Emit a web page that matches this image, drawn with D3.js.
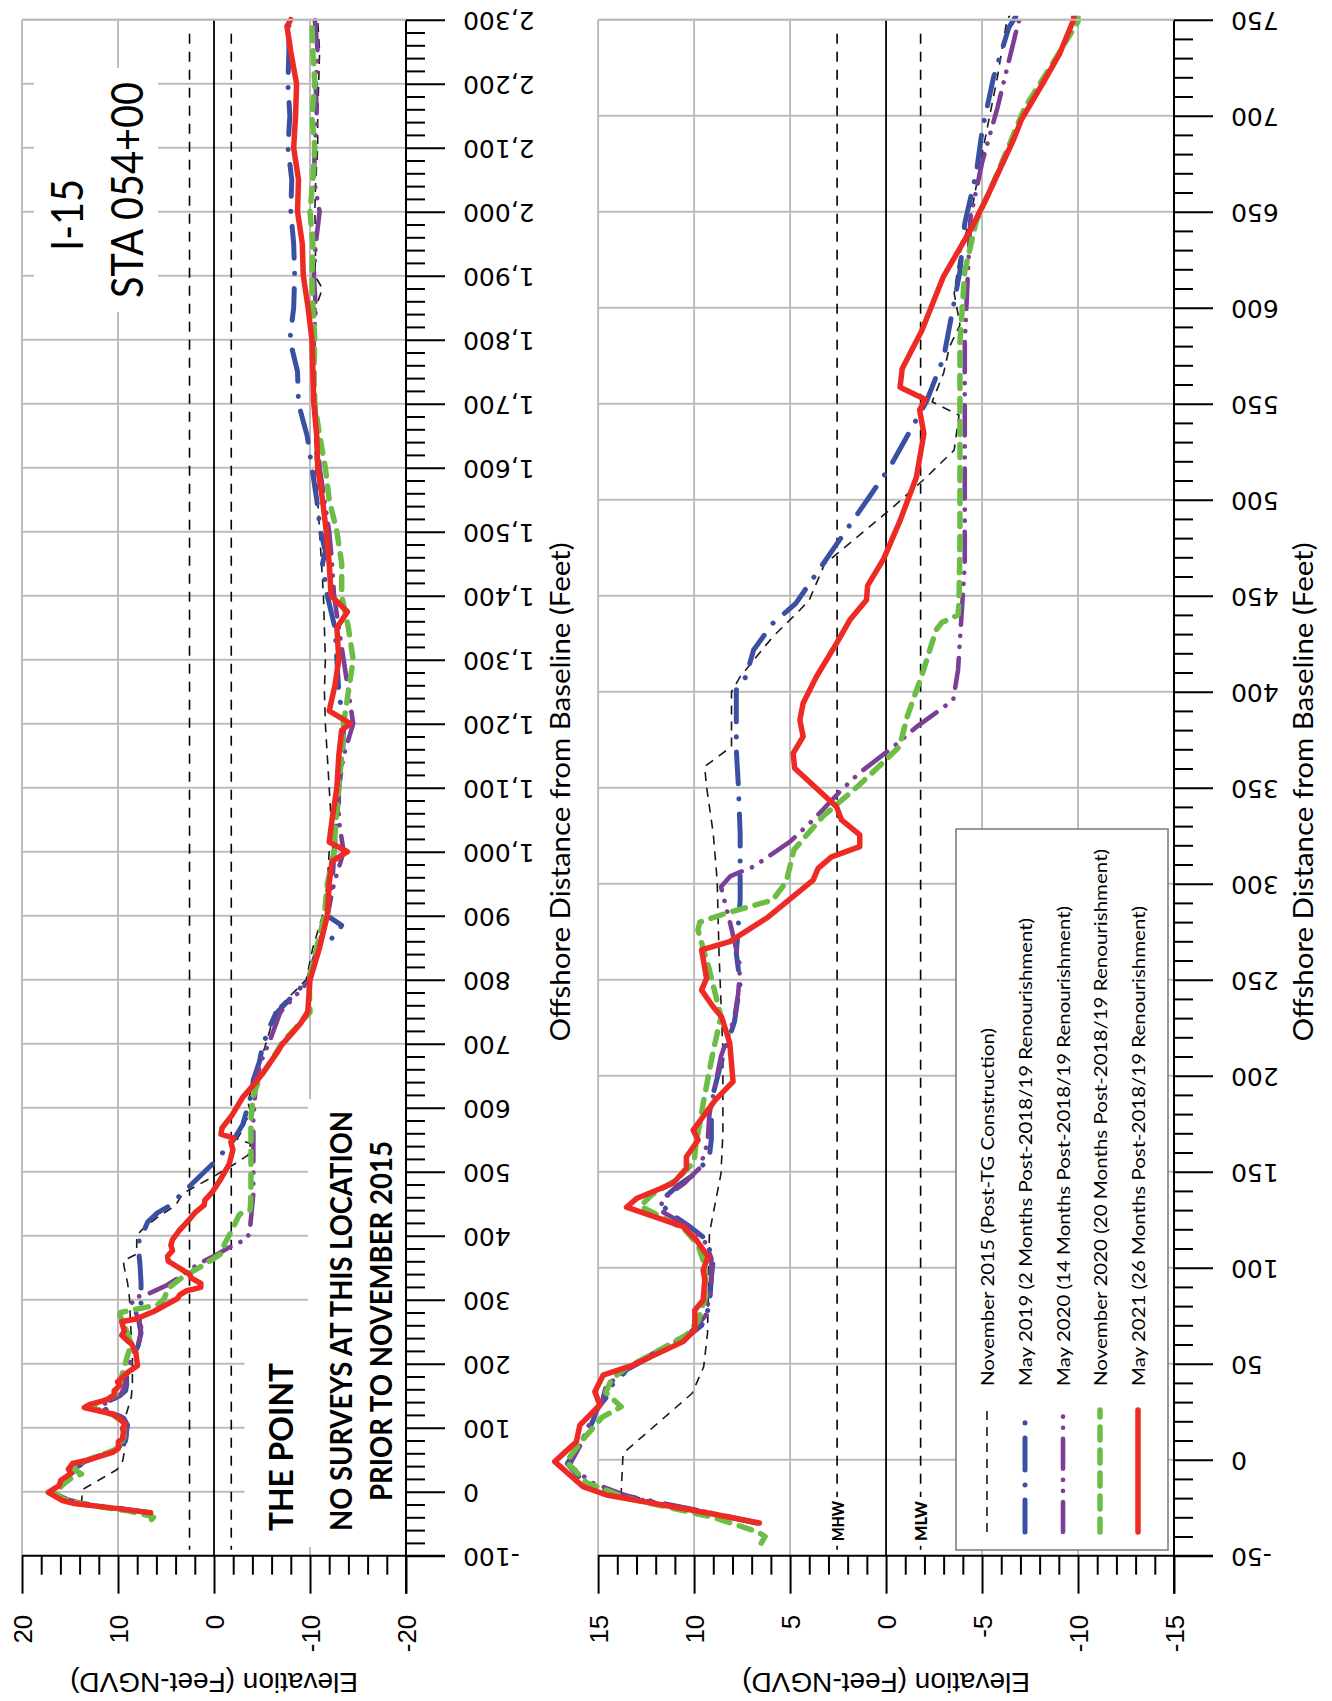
<!DOCTYPE html>
<html>
<head>
<meta charset="utf-8">
<title>I-15 STA 054+00 beach profiles</title>
<script src="https://cdn.jsdelivr.net/npm/d3@7"></script>
<style>
  html, body { margin: 0; padding: 0; background: #ffffff; }
  svg { display: block; }
</style>
</head>
<body>
<svg id="chart" width="1332" height="1701"></svg>
<script>
// ---------------------------------------------------------------------------
// Survey profiles: [offshore distance (ft), elevation (ft NGVD)]
// ---------------------------------------------------------------------------
const seriesLabels = [
  "November 2015 (Post-TG Construction)",
  "May 2019 (2 Months Post-2018/19 Renourishment)",
  "May 2020 (14 Months Post-2018/19 Renourishment)",
  "November 2020 (20 Months Post-2018/19 Renourishment)",
  "May 2021 (26 Months Post-2018/19 Renourishment)"
];

const nov2015 = [
  [-22, 12.0], [-17.5, 13.8], [3.3, 13.7], [34.6, 10.1], [48.4, 9.5], [65.8, 9.3],
  [118, 9.2], [149, 8.6], [170, 8.5], [213, 8.5], [263.7, 8.7], [302, 8.8],
  [326, 9.0], [350.5, 9.35], [361, 9.45], [371.4, 8.05], [400, 8.05], [407.8, 7.6],
  [428.6, 5.9], [442.4, 4.5], [447.8, 4.0], [466.5, 3.2], [494.7, -0.2], [511.7, -2.1],
  [525.9, -3.55], [544, -3.8], [551, -2.4], [566, -3.0], [579.5, -3.3], [591, -3.85],
  [607.6, -3.55], [628, -3.85], [647, -4.4], [680, -5.0], [720, -5.8], [750, -6.3],
  [800, -9.6], [850, -10.3], [900, -11.3], [950, -11.8], [1000, -12.0], [1050, -12.2],
  [1100, -12.0], [1150, -11.8], [1200, -11.6], [1250, -11.5], [1300, -11.6], [1350, -11.5],
  [1400, -11.4], [1450, -11.2], [1500, -11.0], [1550, -10.8], [1600, -10.6], [1650, -10.5],
  [1700, -10.4], [1750, -10.6], [1800, -10.5], [1850, -10.6], [1880, -11.3], [1900, -10.5],
  [1950, -10.6], [2000, -10.5], [2050, -10.6], [2100, -10.8], [2150, -10.8], [2200, -10.9],
  [2250, -11.0], [2300, -10.8]
];

const may2019 = [
  [-33, 6.7], [-28, 9.0], [-20, 13.0], [-16, 14.8], [-10, 15.9], [-2, 16.6], [8, 16.0],
  [15, 15.5], [22, 15.2], [26, 15.1], [32, 14.6], [38, 14.4], [41, 14.0], [47, 13.5],
  [55, 12.0], [62, 10.6], [70, 9.6], [80, 9.2], [95, 9.1], [104, 9.0], [115, 9.4],
  [122, 10.3], [128, 11.2], [132, 11.6], [137, 11.5], [143, 10.8], [150, 9.8], [158, 9.2],
  [167, 9.1], [187, 9.1], [206.4, 8.6], [228, 7.9], [248, 7.6], [263.7, 7.8], [291.5, 7.6],
  [326.3, 7.6], [352.3, 7.7], [369.6, 7.8], [400.9, 7.8], [407.8, 7.3], [421.7, 6.9],
  [435.6, 5.9], [446, 4.7], [475, 2.7], [517, -0.2], [551, -2.1], [574, -3.0], [619, -3.85],
  [644, -4.1], [670, -4.7], [692, -5.0], [720, -5.6], [746, -6.4], [800, -9.8], [850, -10.8],
  [870, -12.8], [885, -13.3], [900, -11.8], [950, -12.3], [1000, -12.5], [1050, -12.8],
  [1100, -13.0], [1150, -13.4], [1200, -13.5], [1250, -13.0], [1300, -12.8], [1350, -12.6],
  [1400, -11.8], [1450, -11.3], [1470, -11.6], [1500, -11.1], [1550, -10.7], [1600, -10.2],
  [1650, -9.7], [1700, -8.8], [1750, -8.7], [1800, -7.9], [1850, -8.3], [1900, -8.4],
  [1950, -8.3], [2000, -8.0], [2050, -8.1], [2100, -7.7], [2150, -7.9], [2200, -7.7],
  [2250, -7.8], [2300, -7.8]
];

const may2020 = [
  [-33, 6.8], [-28, 9.0], [-20, 13.2], [-12, 15.3], [-3, 16.5], [8, 15.9], [20, 15.4],
  [30, 14.8], [38, 14.6], [45, 13.8], [55, 12.2], [65, 10.3], [75, 9.4], [90, 9.1],
  [105, 9.1], [115, 9.5], [122, 10.4], [130, 11.8], [136, 11.6], [144, 10.5], [152, 9.7],
  [165, 9.3], [180, 9.2], [190, 9.0], [210, 8.6], [230, 7.9], [243, 7.7], [257, 7.6],
  [278.6, 8.1], [298.4, 8.6], [304, 8.1], [308.9, 6.9], [321.9, 5.0], [333.2, 3.8],
  [348, 2.4], [357.6, 1.4], [371.4, -0.4], [381.8, -1.6], [390.5, -2.8], [395.7, -3.5],
  [411.3, -3.75], [427, -3.85], [466, -4.1], [529, -4.1], [582, -4.1], [647, -4.4],
  [675.5, -5.0], [704, -5.8], [749, -6.9], [800, -10.0], [850, -10.8], [900, -11.8],
  [950, -12.5], [1000, -13.5], [1050, -13.0], [1100, -13.0], [1150, -13.5], [1200, -14.5],
  [1250, -14.0], [1300, -13.5], [1350, -13.0], [1400, -12.5], [1450, -12.3], [1500, -12.0],
  [1550, -11.5], [1600, -11.0], [1650, -10.8], [1700, -10.5], [1750, -10.3], [1800, -10.4],
  [1850, -10.6], [1900, -10.4], [1950, -10.6], [2000, -11.0], [2050, -10.4], [2100, -10.5],
  [2150, -10.7], [2200, -10.6], [2250, -10.8], [2300, -10.5]
];

const nov2020 = [
  [-43.5, 6.5], [-40, 6.3], [-37.5, 6.7], [-30, 9.0], [-20, 13.5], [-12, 15.6], [-1, 16.65],
  [8, 16.0], [15, 15.4], [22, 14.8], [27.6, 13.8], [35, 14.6], [42, 14.3], [48, 13.5],
  [56, 12.0], [65, 10.4], [72, 9.8], [85, 9.4], [100, 9.4], [112, 9.8], [120, 10.5],
  [128, 12.0], [132, 12.8], [138, 12.2], [146, 10.9], [155, 10.0], [165, 9.9], [175, 9.7],
  [187, 9.5], [213, 9.0], [230.7, 8.6], [255, 9.2], [275.9, 9.8], [280, 9.7], [284.7, 8.3],
  [291.5, 5.9], [301, 5.2], [317.6, 4.8], [335, 3.3], [350.5, 1.5], [362.7, 0.2],
  [371.4, -0.7], [387, -1.1], [409.6, -1.9], [432, -2.6], [436, -2.9], [440, -3.75],
  [446, -3.8], [478, -3.85], [530, -3.85], [582, -3.85], [619, -4.1], [645, -4.7],
  [670, -5.8], [703.7, -7.2], [726, -8.6], [749, -10.0], [800, -9.9], [850, -10.7],
  [900, -11.5], [950, -11.8], [1000, -12.5], [1050, -12.7], [1100, -13.0], [1150, -13.3],
  [1200, -13.5], [1250, -14.0], [1280, -14.3], [1300, -14.5], [1350, -14.0], [1400, -13.3],
  [1450, -13.3], [1500, -12.8], [1550, -12.0], [1600, -11.6], [1650, -11.0], [1700, -10.5],
  [1750, -10.4], [1800, -10.5], [1850, -10.3], [1900, -10.2], [1950, -10.3], [2000, -10.0],
  [2050, -10.3], [2100, -10.5], [2150, -10.2], [2200, -10.5], [2250, -10.3], [2300, -10.2]
];

const may2021 = [
  [-33, 6.6], [-27.6, 9.35], [-18.4, 14.56], [-14, 15.78], [-1, 17.26], [9.4, 16.13],
  [18, 15.95], [28.5, 14.91], [35.4, 15.17], [44, 14.74], [49.3, 13.18], [61.5, 10.57],
  [67.6, 9.96], [78, 9.96], [83, 9.53], [93.6, 9.44], [98.8, 9.53], [105.7, 9.27],
  [114.4, 9.88], [121.4, 10.57], [131.5, 13.52], [136, 13.0], [144, 11.09], [151.8, 10.4],
  [157.8, 10.4], [166.5, 9.79], [171.7, 10.05], [187.3, 8.9], [196.9, 7.97], [216.9, 8.14],
  [230.7, 8.57], [235.9, 9.01], [244.6, 9.61], [250.7, 9.35], [265.5, 9.61], [269.8, 8.14],
  [282, 6.23], [301.9, 3.8], [308, 3.54], [314, 2.84], [319.3, 1.37], [325.4, 1.37],
  [333.2, 2.32], [340.1, 2.58], [360.1, 4.76], [367.9, 4.84], [376.6, 4.32], [385.3, 4.49],
  [394, 4.32], [407.8, 3.63], [425.2, 2.58], [437.3, 1.89], [447.8, 1.02], [455.2, 0.96],
  [469.3, 0.12], [489.1, -0.73], [511.7, -1.58], [534.3, -1.97], [546.7, -1.75],
  [552.3, -2.03], [558.6, -0.73], [568.2, -0.84], [588, -1.86], [616.2, -2.99],
  [640.5, -4.4], [657.4, -5.25], [688, -6.66], [698.1, -7.06], [717.3, -8.19], [732, -9.03],
  [750, -9.77], [800, -10.0], [850, -11.0], [900, -11.8], [950, -12.0], [985, -12.3],
  [1000, -13.9], [1015, -12.0], [1050, -12.3], [1100, -12.8], [1150, -13.0], [1190, -13.3],
  [1200, -14.2], [1220, -12.0], [1260, -12.6], [1300, -13.0], [1350, -12.8], [1375, -13.9],
  [1400, -12.2], [1450, -12.0], [1500, -11.7], [1550, -11.3], [1600, -10.8], [1650, -10.7],
  [1700, -10.4], [1750, -10.3], [1800, -10.2], [1850, -9.8], [1900, -9.3], [1950, -9.2],
  [2000, -8.7], [2050, -8.8], [2100, -8.3], [2150, -8.5], [2200, -8.6], [2250, -8.0],
  [2290, -7.6], [2300, -8.0]
];

// Tidal datums (ft NGVD)
const tidalLevels = [
  { name: "MHW", value: 2.55 },
  { name: "MLW", value: -1.8 }
];

// Axis ticks
const fullDistTicks = d3.range(-100, 2301, 100);
const fullDistMinor = d3.range(-100, 2301, 20);
const fullElevTicks = [20, 10, 0, -10, -20];
const fullElevMinor = d3.range(-20, 21, 2);
const zoomDistTicks = d3.range(-50, 751, 50);
const zoomDistMinor = d3.range(-50, 751, 10);
const zoomElevTicks = [15, 10, 5, 0, -5, -10, -15];
const zoomElevMinor = d3.range(-15, 16, 1);

// ---------------------------------------------------------------------------
// Styles
// ---------------------------------------------------------------------------
const seriesData = [nov2015, may2019, may2020, nov2020, may2021];
const seriesStyle = [
  { color: "#1a1a1a", width: 1.6, dash: "9,7",                 cap: "butt"  },
  { color: "#3a51a3", width: 5,   dash: "32,15,0.1,15",        cap: "round" },
  { color: "#7c3f98", width: 4.6, dash: "30,11,0.1,11,0.1,11", cap: "round" },
  { color: "#6cbd45", width: 5.5, dash: "13,10",               cap: "round" },
  { color: "#ee2a24", width: 5.5, dash: null,                  cap: "round" }
];
const gridColor = "#bcbcbc";
const fmt = d3.formatLocale({ decimal: ".", thousands: ",", grouping: [3], currency: ["", ""], minus: "-" }).format(",");

const svg = d3.select("#chart");
svg.append("rect").attr("width", 1332).attr("height", 1701).attr("fill", "#fff");

const panels = [
  {
    key: "full",
    elevDomain: [20, -20], left: 22, right: 406,
    distDomain: [-100, 2300], top: 19.7, bottom: 1555.7,
    distTicks: fullDistTicks, distMinor: fullDistMinor,
    elevTicks: fullElevTicks, elevMinor: fullElevMinor,
    distTitleX: 559
  },
  {
    key: "zoom",
    elevDomain: [15, -15], left: 598.1, right: 1174,
    distDomain: [-50, 750], top: 19.7, bottom: 1555.7,
    distTicks: zoomDistTicks, distMinor: zoomDistMinor,
    elevTicks: zoomElevTicks, elevMinor: zoomElevMinor,
    distTitleX: 1302
  }
];

const majorLen = 39, minorLen = 19;

function rotatedText(parent, x, y, angle, text, opts) {
  const t = parent.append("text")
    .attr("transform", `translate(${x},${y}) rotate(${angle})`)
    .attr("text-anchor", opts.anchor || "middle")
    .attr("dominant-baseline", "central")
    .attr("font-family", opts.family)
    .attr("font-size", opts.size)
    .attr("font-weight", opts.weight || "normal")
    .attr("fill", "#000")
    .text(text);
  if (opts.length) t.attr("textLength", opts.length).attr("lengthAdjust", "spacingAndGlyphs");
  return t;
}

panels.forEach(p => {
  const x = d3.scaleLinear().domain(p.elevDomain).range([p.left, p.right]);
  const y = d3.scaleLinear().domain(p.distDomain).range([p.bottom, p.top]);
  const g = svg.append("g").attr("class", "panel-" + p.key);

  // grid
  const grid = g.append("g");
  grid.selectAll("line.h").data(p.distTicks.filter(d => d !== p.distDomain[0]))
    .join("line")
    .attr("x1", p.left).attr("x2", p.right)
    .attr("y1", d => y(d)).attr("y2", d => y(d))
    .attr("stroke", gridColor).attr("stroke-width", 2);
  grid.selectAll("line.v").data(p.elevTicks.filter(d => d !== 0 && d !== p.elevDomain[1]))
    .join("line")
    .attr("x1", d => x(d)).attr("x2", d => x(d))
    .attr("y1", p.top).attr("y2", p.bottom)
    .attr("stroke", gridColor).attr("stroke-width", 2);

  // datum lines
  g.append("line")
    .attr("x1", x(0)).attr("x2", x(0)).attr("y1", p.top).attr("y2", p.bottom)
    .attr("stroke", "#000").attr("stroke-width", 1.8);
  tidalLevels.forEach(t => {
    g.append("line")
      .attr("x1", x(t.value)).attr("x2", x(t.value)).attr("y1", p.top + 14).attr("y2", p.bottom - 6)
      .attr("stroke", "#000").attr("stroke-width", 1.6).attr("stroke-dasharray", "10,8");
  });

  p.x = x; p.y = y; p.g = g;
});

// ---------------------------------------------------------------------------
// Annotations on the full-length profile
// ---------------------------------------------------------------------------
function boxedBlock(parent, cx, cy, lines, opts, pad) {
  const blk = parent.append("g").attr("transform", `translate(${cx},${cy}) rotate(-90)`);
  const bg = blk.append("rect").attr("fill", "#fff");
  lines.forEach(l => {
    const t = blk.append("text")
      .attr("x", l.dx || 0).attr("y", l.dy)
      .attr("text-anchor", "middle").attr("dominant-baseline", "central")
      .attr("font-family", opts.family).attr("font-size", opts.size)
      .attr("font-weight", opts.weight || "normal").attr("fill", "#000")
      .text(l.text);
    if (l.length) t.attr("textLength", l.length).attr("lengthAdjust", "spacingAndGlyphs");
  });
  const bb = blk.node().getBBox();
  bg.attr("x", bb.x - pad[0]).attr("y", bb.y - pad[1])
    .attr("width", bb.width + 2 * pad[0]).attr("height", bb.height + 2 * pad[1]);
  return blk;
}

const gFull = panels[0].g;
boxedBlock(gFull, 96, 190, [
  { text: "I-15", dy: -30, dx: -25, length: 72 },
  { text: "STA 054+00", dy: 30, length: 216 }
], { family: "Lato, 'Open Sans', sans-serif", size: 44 }, [14, 6]);

boxedBlock(gFull, 280, 1447, [
  { text: "THE POINT", dy: 0, length: 168 }
], { family: "Lato, 'Open Sans', sans-serif", size: 32, weight: "bold" }, [16, 16]);

boxedBlock(gFull, 360, 1321, [
  { text: "NO SURVEYS AT THIS LOCATION", dy: -20, length: 420 },
  { text: "PRIOR TO NOVEMBER 2015", dy: 20, length: 360 }
], { family: "Lato, 'Open Sans', sans-serif", size: 30, weight: "bold" }, [12, 14]);

// ---------------------------------------------------------------------------
// Legend (inside the zoomed panel)
// ---------------------------------------------------------------------------
const gZoom = panels[1].g;
const legend = gZoom.append("g");
legend.append("rect")
  .attr("x", 956).attr("y", 829).attr("width", 212).attr("height", 721)
  .attr("fill", "#fff").attr("stroke", "#808080").attr("stroke-width", 1.6);
const legendX = [987, 1025, 1063, 1100, 1138];
const legendLen = [358, 468, 480, 537, 480];
seriesLabels.forEach((lab, i) => {
  const s = seriesStyle[i];
  legend.append("line")
    .attr("x1", legendX[i]).attr("x2", legendX[i]).attr("y1", 1532).attr("y2", 1410)
    .attr("stroke", s.color).attr("stroke-width", s.width)
    .attr("stroke-dasharray", s.dash).attr("stroke-linecap", s.cap);
  rotatedText(legend, legendX[i], 1386, -90, lab, {
    family: "Lato, 'Open Sans', sans-serif", size: 18, anchor: "start", length: legendLen[i]
  });
});

// tidal datum labels on the zoomed panel
tidalLevels.forEach(t => {
  const px = panels[1].x(t.value);
  boxedBlock(gZoom, px, 1521, [{ text: t.name, dy: 0, length: 40 }],
    { family: "Lato, 'Open Sans', sans-serif", size: 17, weight: "900" }, [4, 2]);
});

// ---------------------------------------------------------------------------
// Profiles
// ---------------------------------------------------------------------------
panels.forEach(p => {
  const clipId = "clip-" + p.key;
  svg.append("clipPath").attr("id", clipId)
    .append("rect").attr("x", 0).attr("y", p.top - 4).attr("width", 1332).attr("height", p.bottom - p.top + 8);
  const line = d3.line().x(d => p.x(d[1])).y(d => p.y(d[0]));
  const lg = p.g.append("g").attr("clip-path", `url(#${clipId})`);
  seriesData.forEach((data, i) => {
    const s = seriesStyle[i];
    const inRange = data.filter((d, j) => {
      const prev = data[j - 1], next = data[j + 1];
      const within = v => v >= p.distDomain[0] && v <= p.distDomain[1];
      return within(d[0]) || (prev && within(prev[0])) || (next && within(next[0]));
    });
    lg.append("path").datum(inRange)
      .attr("d", line)
      .attr("fill", "none")
      .attr("stroke", s.color).attr("stroke-width", s.width)
      .attr("stroke-dasharray", s.dash)
      .attr("stroke-linecap", s.cap).attr("stroke-linejoin", "round");
  });
});

// ---------------------------------------------------------------------------
// Axes
// ---------------------------------------------------------------------------
panels.forEach(p => {
  const g = p.g;
  // distance axis (vertical, right side)
  const distAxis = g.append("g").attr("transform", `translate(${p.right},0)`);
  distAxis.call(d3.axisRight(p.y).tickValues(p.distMinor.filter(d => !p.distTicks.includes(d)))
    .tickSize(minorLen).tickSizeOuter(0).tickFormat(""));
  distAxis.append("g").call(d3.axisRight(p.y).tickValues(p.distTicks)
    .tickSize(majorLen).tickSizeOuter(0).tickFormat(fmt));
  distAxis.selectAll(".domain").remove();
  distAxis.selectAll("line").attr("stroke", "#000").attr("stroke-width", 2);
  distAxis.selectAll("text")
    .attr("x", null).attr("dy", null)
    .attr("transform", "translate(57,0) rotate(180)")
    .attr("text-anchor", "end")
    .attr("dominant-baseline", "central")
    .attr("font-family", "'DejaVu Sans', Verdana, sans-serif")
    .attr("font-size", 25).attr("fill", "#000");
  g.append("line").attr("x1", p.right).attr("x2", p.right)
    .attr("y1", p.top).attr("y2", p.bottom + majorLen - 1)
    .attr("stroke", "#000").attr("stroke-width", 2);

  // elevation axis (horizontal, bottom)
  const elevAxis = g.append("g").attr("transform", `translate(0,${p.bottom})`);
  elevAxis.call(d3.axisBottom(p.x).tickValues(p.elevMinor.filter(d => !p.elevTicks.includes(d)))
    .tickSize(minorLen).tickSizeOuter(0).tickFormat(""));
  elevAxis.append("g").call(d3.axisBottom(p.x).tickValues(p.elevTicks)
    .tickSize(majorLen - 1).tickSizeOuter(0).tickFormat(fmt));
  elevAxis.selectAll(".domain").remove();
  elevAxis.selectAll("line").attr("stroke", "#000").attr("stroke-width", 2);
  elevAxis.selectAll("text")
    .attr("y", null).attr("dy", null)
    .attr("transform", "translate(0,59) rotate(-90)")
    .attr("text-anchor", "end")
    .attr("dominant-baseline", "central")
    .attr("font-family", "'Liberation Sans', Arial, sans-serif")
    .attr("font-size", 26).attr("fill", "#000");
  g.append("line").attr("x1", p.left).attr("x2", p.right + majorLen)
    .attr("y1", p.bottom).attr("y2", p.bottom)
    .attr("stroke", "#000").attr("stroke-width", 2);

  // top border
  g.append("line").attr("x1", p.left).attr("x2", p.right)
    .attr("y1", p.top).attr("y2", p.top)
    .attr("stroke", gridColor).attr("stroke-width", 2);

  // axis titles
  rotatedText(g, (p.left + p.right) / 2, 1682, 180, "Elevation (Feet-NGVD)", {
    family: "'Liberation Sans', Arial, sans-serif", size: 28
  });
  rotatedText(g, p.distTitleX, 792, -90, "Offshore Distance from Baseline (Feet)", {
    family: "Lato, 'Open Sans', sans-serif", size: 27, length: 499
  });
});
</script>
</body>
</html>
